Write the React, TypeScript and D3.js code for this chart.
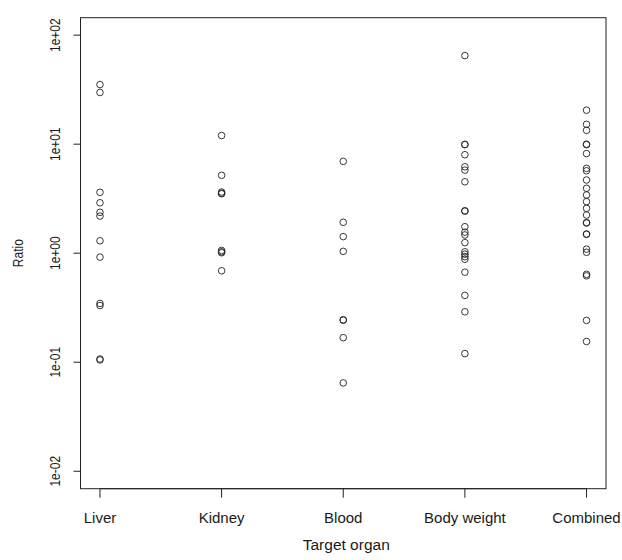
import React from "react";
import * as d3 from "d3";

const categories = ["Liver", "Kidney", "Blood", "Body weight", "Combined"];
const liver = [35.2, 29.8, 3.62, 2.9, 2.37, 2.19, 1.3, 0.92, 0.346, 0.331, 0.107, 0.105];
const kidney = [12.0, 5.18, 3.64, 3.55, 3.51, 1.06, 1.03, 1.01, 0.69];
const blood = [6.95, 1.92, 1.42, 1.04, 0.245, 0.243, 0.168, 0.0646];
const bodyWeight = [64.9, 9.95, 9.9, 8.0, 6.2, 5.78, 4.52, 2.45, 2.43, 1.75, 1.56, 1.47, 1.25, 1.03, 0.98, 0.93, 0.88, 0.67, 0.41, 0.29, 0.12];
const combined = [20.5, 15.2, 13.4, 10.0, 9.9, 8.2, 6.0, 5.7, 4.69, 3.94, 3.42, 2.97, 2.58, 2.24, 1.91, 1.89, 1.5, 1.49, 1.09, 1.02, 0.64, 0.62, 0.242, 0.155];
const seriesValues = [liver, kidney, blood, bodyWeight, combined];
const yTicks = [0.01, 0.1, 1, 10, 100];
const yTickLabels = ["1e-02", "1e-01", "1e+00", "1e+01", "1e+02"];

export default function App() {
  const W = 622, H = 560;
  const left = 80.5, right = 606, top = 17.7, bottom = 488.7;
  const x = d3.scaleLinear().domain([0.84, 5.16]).range([left, right]);
  const y = d3.scaleLog().domain([0.01 / Math.pow(10, 0.16), 100 * Math.pow(10, 0.16)]).range([bottom, top]);
  const font = "Liberation Sans, Arial, sans-serif";
  const tick = 7;
  const txt = "#1a1a1a";
  return (
    <svg width={W} height={H} style={{ position: "absolute", left: 0, top: 0, background: "#fff" }} fontFamily={font}>
      <rect x={left} y={top} width={right - left} height={bottom - top} fill="none" stroke="#222" strokeWidth={1} />
      {/* y axis */}
      <line x1={left} x2={left} y1={y(yTicks[0])} y2={y(yTicks[yTicks.length - 1])} stroke="#222" />
      {yTicks.map((t, i) => (
        <g key={t}>
          <line x1={left - tick} x2={left} y1={y(t)} y2={y(t)} stroke="#222" />
          <text
            transform={`translate(${left - 20.5},${y(t)}) scale(1.28,1) rotate(-90)`}
            textAnchor="middle"
            fontSize={12}
            fill={txt}
          >
            {yTickLabels[i]}
          </text>
        </g>
      ))}
      {/* x axis */}
      <line x1={x(1)} x2={x(5)} y1={bottom} y2={bottom} stroke="#222" />
      {categories.map((c, i) => (
        <g key={c}>
          <line x1={x(i + 1)} x2={x(i + 1)} y1={bottom} y2={bottom + tick + 2} stroke="#222" />
          <text x={x(i + 1)} y={522.5} textAnchor="middle" fontSize={15} fill={txt}>
            {c}
          </text>
        </g>
      ))}
      <text x={(left + right) / 2 + 3} y={550} textAnchor="middle" fontSize={15.5} fill={txt}>
        Target organ
      </text>
      <text transform={`translate(23,${(top + bottom) / 2}) scale(1.28,1) rotate(-90)`} textAnchor="middle" fontSize={12} fill={txt}>
        Ratio
      </text>
      {seriesValues.map((vals, i) =>
        vals.map((v, j) => (
          <circle key={`${i}-${j}`} cx={x(i + 1)} cy={y(v)} r={3.3} fill="none" stroke="#222" strokeWidth={0.9} />
        ))
      )}
    </svg>
  );
}
